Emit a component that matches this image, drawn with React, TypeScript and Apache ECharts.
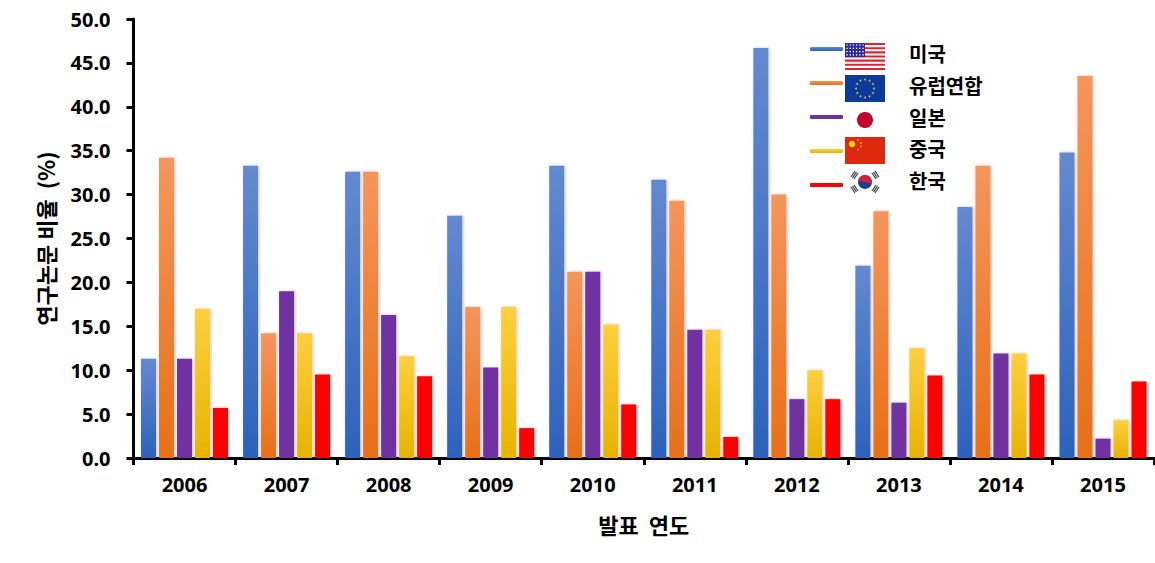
import React, { useEffect, useRef } from "react";
import * as echarts from "echarts";

const years = ["2006", "2007", "2008", "2009", "2010", "2011", "2012", "2013", "2014", "2015"];
const usa = [11.3, 33.3, 32.6, 27.6, 33.3, 31.7, 46.7, 21.9, 28.6, 34.8];
const eu = [34.2, 14.2, 32.6, 17.2, 21.2, 29.3, 30.0, 28.1, 33.3, 43.5];
const japan = [11.3, 19.0, 16.3, 10.3, 21.2, 14.6, 6.7, 6.3, 11.9, 2.2];
const china = [17.0, 14.2, 11.6, 17.2, 15.2, 14.6, 10.0, 12.5, 11.9, 4.3];
const korea = [5.7, 9.5, 9.3, 3.4, 6.1, 2.4, 6.7, 9.4, 9.5, 8.7];
const names = ["미국", "유럽연합", "일본", "중국", "한국"];

const FONT = "'Noto Sans', 'Noto Sans CJK KR', sans-serif";
const KFONT = "'Noto Sans CJK KR', sans-serif";

const grad = (top: string, bottom: string) =>
  new echarts.graphic.LinearGradient(0, 0, 0, 1, [
    { offset: 0, color: top },
    { offset: 1, color: bottom },
  ]);

function usFlag() {
  const x = 845, y = 43, w = 40, h = 27;
  const out: any[] = [{ type: "rect", shape: { x, y, width: w, height: h }, style: { fill: "#fff" } }];
  for (let i = 0; i < 7; i++) {
    out.push({ type: "rect", shape: { x, y: y + (i * 2 * h) / 13, width: w, height: h / 13 }, style: { fill: "#e0212f" } });
  }
  out.push({ type: "rect", shape: { x, y, width: 20, height: 14 }, style: { fill: "#2a2a9c" } });
  for (let r = 0; r < 4; r++) {
    for (let c = 0; c < 6; c++) {
      out.push({ type: "circle", shape: { cx: x + 2 + c * 3.2, cy: y + 2 + r * 3.3, r: 0.7 }, style: { fill: "#fff" } });
    }
  }
  return out;
}

function euFlag() {
  const out: any[] = [{ type: "rect", shape: { x: 845, y: 75, width: 40, height: 27 }, style: { fill: "#0b3a9a" } }];
  for (let i = 0; i < 12; i++) {
    const a = (i * Math.PI) / 6;
    out.push({ type: "circle", shape: { cx: 865 + 9 * Math.sin(a), cy: 88.5 - 9 * Math.cos(a), r: 1 }, style: { fill: "#b9b56a" } });
  }
  return out;
}

function jpFlag() {
  return [{ type: "circle", shape: { cx: 865, cy: 120, r: 8 }, style: { fill: "#c4002f" } }];
}

function cnFlag() {
  const out: any[] = [{ type: "rect", shape: { x: 845, y: 137, width: 40, height: 27 }, style: { fill: "#de2910" } }];
  out.push({ type: "circle", shape: { cx: 852, cy: 144, r: 3.2 }, style: { fill: "#ffde00" } });
  [[858, 140], [861, 143], [861, 146.5], [858, 149.5]].forEach(([cx, cy]) =>
    out.push({ type: "circle", shape: { cx, cy, r: 0.9 }, style: { fill: "#f5b800" } })
  );
  return out;
}

function krFlag() {
  const cx = 865, cy = 182;
  const out: any[] = [
    { type: "circle", shape: { cx, cy, r: 7 }, style: { fill: "#1f3f8f" } },
    { type: "sector", shape: { cx, cy, r: 7, r0: 0, startAngle: Math.PI * 1.08, endAngle: Math.PI * 2.08 }, style: { fill: "#d81f3c" } },
  ];
  [[-10.5, -7], [10.5, -7], [-10.5, 7], [10.5, 7]].forEach(([dx, dy]) => {
    const d = Math.hypot(dx, dy);
    const nx = dx / d, ny = dy / d;
    const tx = -ny, ty = nx;
    for (let k = -1; k <= 1; k++) {
      const len = 3.6;
      const px = cx + dx + nx * k * 1.8, py = cy + dy + ny * k * 1.8;
      out.push({
        type: "line",
        shape: { x1: px - tx * len, y1: py - ty * len, x2: px + tx * len, y2: py + ty * len },
        style: { stroke: "#444", lineWidth: 1.3 },
      });
    }
  });
  return out;
}

export default function App() {
  const ref = useRef<HTMLDivElement>(null);
  useEffect(() => {
    const chart = echarts.init(ref.current!, undefined, { renderer: "svg" });
    const base = { type: "bar" as const, barWidth: 15, barGap: "20%" };
    const seriesData = [usa, eu, japan, china, korea];
    const colors = [
      grad("#6589d0", "#2b62bd"),
      grad("#f5965c", "#e86f17"),
      grad("#7030a0", "#7030a0"),
      grad("#ffcf3f", "#e6b400"),
      grad("#ff0000", "#ff0000"),
    ];
    const legendColors = ["#4472c4", "#ed7d31", "#7030a0", "#ffc000", "#ff0000"];
    chart.setOption({
      animation: false,
      grid: { left: 133.5, right: 1, top: 19, bottom: 105, containLabel: false },
      legend: [
        {
          orient: "vertical",
          left: 810,
          top: 47,
          padding: 0,
          itemGap: 30,
          itemWidth: 33,
          itemHeight: 4,
          icon: "roundRect",
          selectedMode: false,
          data: names,
          formatter: () => "",
          textStyle: { fontSize: 1, lineHeight: 1 },
        },
        {
          orient: "vertical",
          left: 810,
          top: 43,
          padding: 0,
          itemGap: 10.75,
          itemWidth: 32,
          itemHeight: 4,
          icon: "rect",
          itemStyle: { opacity: 0 },
          selectedMode: false,
          data: names,
          textStyle: {
            fontFamily: KFONT,
            fontWeight: "bold",
            fontSize: 20,
            lineHeight: 21,
            color: "#000",
            padding: [0, 0, 0, 62],
          },
        },
      ],
      xAxis: {
        type: "category",
        data: years,
        name: "발표  연도",
        nameLocation: "middle",
        nameGap: 55,
        nameTextStyle: { fontFamily: KFONT, fontWeight: "bold", fontSize: 22, color: "#000" },
        axisLine: { lineStyle: { color: "#000", width: 3 } },
        axisTick: { show: true, length: 7, alignWithLabel: false, lineStyle: { color: "#000", width: 3 } },
        axisLabel: { fontFamily: FONT, fontWeight: "bold", fontSize: 20, color: "#000", margin: 16 },
      },
      yAxis: {
        type: "value",
        min: 0,
        max: 50,
        interval: 5,
        name: "연구논문 비율  (%)",
        nameLocation: "middle",
        nameGap: 78,
        nameRotate: 90,
        nameTextStyle: { fontFamily: KFONT, fontWeight: "bold", fontSize: 22, color: "#000" },
        axisLine: { show: true, lineStyle: { color: "#000", width: 3 } },
        axisTick: { show: true, length: 7, lineStyle: { color: "#000", width: 3 } },
        axisLabel: {
          fontFamily: FONT,
          fontWeight: "bold",
          fontSize: 20,
          color: "#000",
          margin: 23,
          formatter: (v: number) => v.toFixed(1),
        },
        splitLine: { show: false },
      },
      series: names.map((name, i) => ({
        ...base,
        name,
        data: seriesData[i],
        itemStyle: { color: colors[i], shadowBlur: 3, shadowColor: "rgba(0,0,0,0.25)", shadowOffsetX: 1 },
      })),
      color: legendColors,
      graphic: { elements: [...usFlag(), ...euFlag(), ...jpFlag(), ...cnFlag(), ...krFlag()].map((e) => ({ ...e, z: 20 })) },
    });
    return () => chart.dispose();
  }, []);
  return <div ref={ref} style={{ width: 1155, height: 563, position: "absolute", left: 0, top: 0 }} />;
}
